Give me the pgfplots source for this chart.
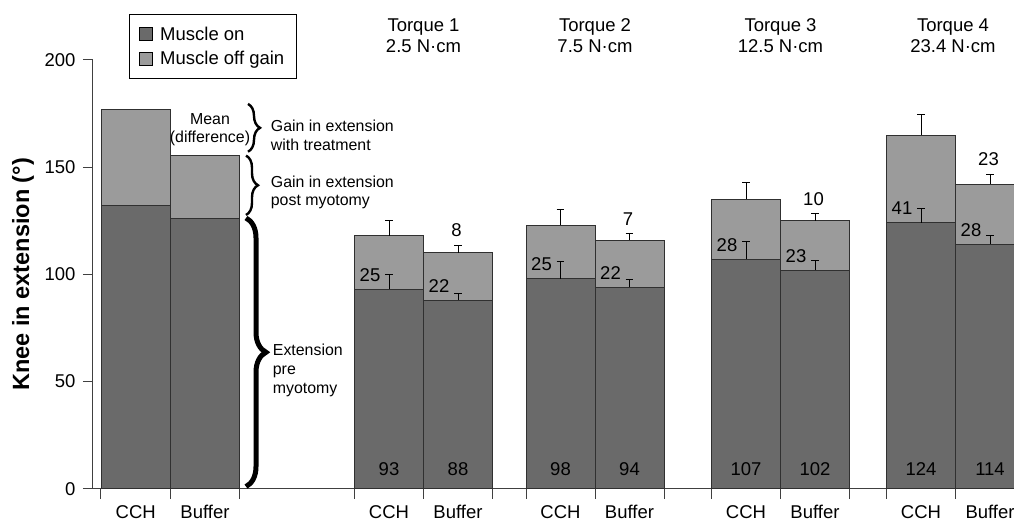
\documentclass[border=0pt]{standalone}
\usepackage{fontspec}
\setmainfont{Liberation Sans}
\usepackage{pgfplots}
\usepackage{pgfplotstable}
\pgfplotsset{compat=1.18}
\usetikzlibrary{decorations.pathreplacing}
\definecolor{darkbar}{HTML}{6A6A6A}
\definecolor{lightbar}{HTML}{9B9B9B}
\definecolor{edge}{HTML}{303030}

\pgfplotstableread{
x on onerr tot toterr
389 93 7 118 7
458 88 3 110 3.4
560.5 98 8 123 7.3
629.5 94 3.7 116 3.3
746 107 8.5 135 8
815 102 4.3 125 3.4
921 124 6.8 165 9.5
990 114 4.3 142 4.8
}\torque

\pgfplotstableread{
x on tot
135.75 132 177
205 126 155.5
}\overall

\pgfplotsset{
  mybar/.style={ybar, bar width=69, bar shift=0pt, draw=edge, line width=0.9pt,
    legend image code/.code={\draw[##1,draw=black,line width=0.8pt] (0pt,-6.5pt) rectangle (13pt,6.5pt);}},
  myerr/.style={error bars/.cd, y dir=plus, y explicit, error mark=-,
    error mark options={rotate=90, mark size=3.8pt, line width=0.9pt, draw=black},
    error bar style={line width=0.9pt, draw=black}},
}
\tikzset{
  lab/.style={font=\fontsize{18.5}{21}\selectfont, inner sep=0pt},
  ann/.style={font=\fontsize{15.9}{18.7}\selectfont, inner sep=0pt},
}

\begin{document}
\begin{tikzpicture}
\useasboundingbox (0,0) rectangle (1014pt,524pt);
\begin{axis}[
  at={(93pt,35.3pt)}, anchor=south west,
  scale only axis, width=921pt, height=428.7pt,
  xmin=93, xmax=1014, ymin=0, ymax=200,
  clip=false,
  axis lines*=left,
  axis line style={draw=black!75, line width=1pt},
  tick align=outside, major tick length=10pt,
  tick style={draw=black!75, line width=1pt},
  ytick={0,50,100,150,200},
  xtick={101,170.5,239.5,354.5,423.5,492.5,526,595,664,711.5,780.5,849.5,886.5,955.5},
  xticklabels={},
  extra x ticks={135.75,205,389,458,560.5,629.5,746,815,921,990},
  extra x tick labels={CCH,Buffer,CCH,Buffer,CCH,Buffer,CCH,Buffer,CCH,Buffer},
  extra x tick style={major tick length=0pt, xticklabel style={yshift=-13pt}},
  ticklabel style={font=\fontsize{18.5}{20}\selectfont},
  yticklabel style={xshift=-4pt},
  /pgf/number format/assume math mode=true,
  ylabel={Knee in extension (°)},
  ylabel style={font=\fontsize{23.5}{25}\selectfont\bfseries, at={(axis description cs:-0.076,0.5)}, anchor=center},
  reverse legend,
  legend cell align=left,
  legend style={at={(0.0391,1.1066)}, anchor=north west, draw=black, line width=0.8pt,
    font=\fontsize{18.5}{21}\selectfont, inner xsep=10pt, inner ysep=10pt, row sep=5.5pt,
    /tikz/every odd column/.append style={column sep=5pt}},
]
\addplot[mybar, fill=lightbar, forget plot] table[x=x,y=tot]{\overall};
\addplot[mybar, fill=darkbar, forget plot] table[x=x,y=on]{\overall};
\addplot[mybar, fill=lightbar, myerr] table[x=x,y=tot,y error plus=toterr]{\torque};
\addlegendentry{Muscle off gain}
\addplot[mybar, fill=darkbar, myerr] table[x=x,y=on,y error plus=onerr]{\torque};
\addlegendentry{Muscle on}

% group titles
\node[lab, anchor=base] at (axis cs:423.5,213.2) {Torque 1};
\node[lab, anchor=base] at (axis cs:423.5,203.3) {2.5 N·cm};
\node[lab, anchor=base] at (axis cs:595,213.2) {Torque 2};
\node[lab, anchor=base] at (axis cs:595,203.3) {7.5 N·cm};
\node[lab, anchor=base] at (axis cs:780.5,213.2) {Torque 3};
\node[lab, anchor=base] at (axis cs:780.5,203.3) {12.5 N·cm};
\node[lab, anchor=base] at (axis cs:953,213.2) {Torque 4};
\node[lab, anchor=base] at (axis cs:953,203.3) {23.4 N·cm};

% bottom values
\node[lab] at (axis cs:389,9.2) {93};
\node[lab] at (axis cs:458,9.2) {88};
\node[lab] at (axis cs:560.5,9.2) {98};
\node[lab] at (axis cs:629.5,9.2) {94};
\node[lab] at (axis cs:746,9.2) {107};
\node[lab] at (axis cs:815,9.2) {102};
\node[lab] at (axis cs:921,9.2) {124};
\node[lab] at (axis cs:990,9.2) {114};
% gain values
\node[lab] at (axis cs:370,99.7) {25};
\node[lab] at (axis cs:439,94.7) {22};
\node[lab] at (axis cs:541.5,104.7) {25};
\node[lab] at (axis cs:610.5,100.7) {22};
\node[lab] at (axis cs:727,113.7) {28};
\node[lab] at (axis cs:796,108.7) {23};
\node[lab] at (axis cs:902,130.7) {41};
\node[lab] at (axis cs:971,120.7) {28};
% difference values
\node[lab] at (axis cs:456.5,120.4) {8};
\node[lab] at (axis cs:628,125.9) {7};
\node[lab] at (axis cs:813.5,135.2) {10};
\node[lab] at (axis cs:988.5,153.6) {23};

% annotations
\node[ann, anchor=base] at (axis cs:210,170.1) {Mean};
\node[ann, anchor=base] at (axis cs:210,161.4) {(difference)};
\draw[decorate, decoration={brace, amplitude=12pt}, line width=2.4pt] (axis cs:248,179.5) -- (axis cs:248,157.2);
\draw[decorate, decoration={brace, amplitude=12pt}, line width=2.4pt] (axis cs:246,155.4) -- (axis cs:246,127.7);
\draw[decorate, decoration={brace, amplitude=20pt}, line width=5pt] (axis cs:246,126.3) -- (axis cs:246,1);
\node[ann, anchor=base west] at (axis cs:270.7,166.5) {Gain in extension};
\node[ann, anchor=base west] at (axis cs:270.7,157.8) {with treatment};
\node[ann, anchor=base west] at (axis cs:270.7,140.7) {Gain in extension};
\node[ann, anchor=base west] at (axis cs:270.7,132.1) {post myotomy};
\node[ann, anchor=base west] at (axis cs:272.7,62.1) {Extension};
\node[ann, anchor=base west] at (axis cs:272.7,53.1) {pre};
\node[ann, anchor=base west] at (axis cs:272.7,44.6) {myotomy};
\end{axis}
\end{tikzpicture}
\end{document}
